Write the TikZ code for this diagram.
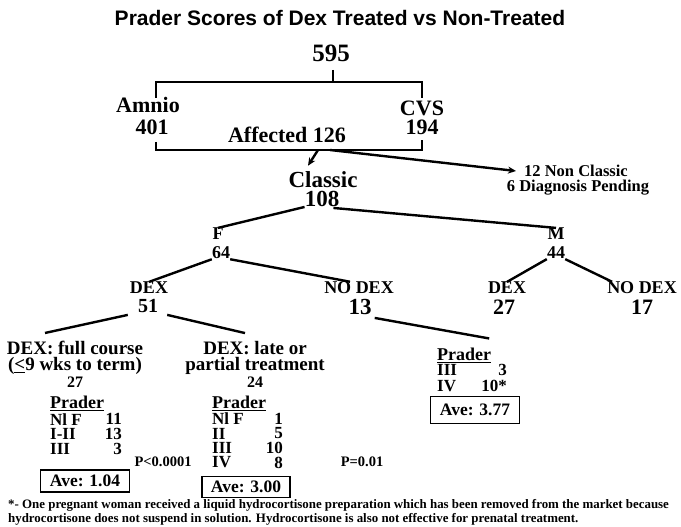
\documentclass[tikz,border=0pt]{standalone}
\usepackage{fontspec}
\setmainfont{Liberation Serif}
\newfontfamily\headfont{Liberation Sans}
\usetikzlibrary{arrows.meta, calc}

\newcommand\fs[1]{\fontsize{#1}{#1}\selectfont}

\begin{document}
\begin{tikzpicture}[
    x=1pt, y=-1pt,
    every node/.style={font=\bfseries, inner sep=0pt},
    branch/.style={line width=2.4pt},
    bracket/.style={line width=2pt},
    prhead/.style={font=\bfseries\fs{18}, anchor=west},
    prrow/.style={font=\bfseries\fs{17}},
    avebox/.style={draw, line width=1.6pt, inner sep=2pt, font=\bfseries\fs{17.5}},
]
\useasboundingbox (0,0) rectangle (681,527);

% ================================================================
%   all positions in pixels of the 681 x 527 figure, y going down
% ================================================================

\node[font=\headfont\bfseries\fs{21}] (title) at (340,18)
    {Prader Scores of Dex Treated vs Non-Treated};

% ---------------------------------------------------------------- 595
\node[font=\bfseries\fs{25}] (total) at (331,53) {595};
\node[font=\bfseries\fs{22}] (amnio) at (148,105) {Amnio};
\node[font=\bfseries\fs{22}] (amnioN) at (152,127) {401};
\node[font=\bfseries\fs{22}] (cvs) at (422,108) {CVS};
\node[font=\bfseries\fs{22}] (cvsN) at (422,127) {194};
\node[font=\bfseries\fs{22}] (affected) at (287,135) {Affected 126};

\coordinate (stem) at (333,82);
\coordinate (topL) at (156,98);
\coordinate (topR) at (422,98);
\draw[bracket] (total) ++(2,17) -- (stem);
\draw[bracket] (topL) |- (stem) -| (topR);

\coordinate (botL) at (156,142);
\coordinate (botR) at (422,140);
\coordinate (botM) at (318,150);
\draw[bracket] (botL) |- (botM) -| (botR);

% ---------------------------------------------------------------- classic
\node[font=\bfseries\fs{23}] (classic) at (323,180) {Classic};
\node[font=\bfseries\fs{23}] (classicN) at (322,199) {108};
\node[font=\bfseries\fs{16.5}] (nc1) at (576,171) {12 Non Classic};
\node[font=\bfseries\fs{16.5}] (nc2) at (578,188) {6 Diagnosis Pending};

\draw[branch, -{Stealth[length=8pt, width=7pt]}]
    (botM) -- ($(classic.north)+(-15,-6)$);
\draw[branch, -{Stealth[length=8pt, width=7pt]}]
    ($(botM)+(12,0)$) -- ($(nc1.west)+(-8,0)$);

% ---------------------------------------------------------------- F / M
\node[font=\bfseries\fs{18}] (fem) at (218,234) {F};
\node[font=\bfseries\fs{18}] (femN) at (221,253) {64};
\node[font=\bfseries\fs{18}] (male) at (556,234) {M};
\node[font=\bfseries\fs{18}] (maleN) at (556,253) {44};

\draw[branch] (classicN.south west) -- (fem.north);
\draw[branch] ($(classicN.south east)+(-6,1)$) -- (male.north);

% ---------------------------------------------------------------- DEX / NO DEX
\node[font=\bfseries\fs{18}] (dexF) at (149,288) {DEX};
\node[font=\bfseries\fs{20}] (dexFN) at (148,306) {51};
\node[font=\bfseries\fs{18}] (nodexF) at (359,288) {NO DEX};
\node[font=\bfseries\fs{23}] (nodexFN) at (360,307) {13};
\node[font=\bfseries\fs{18}] (dexM) at (507,288) {DEX};
\node[font=\bfseries\fs{22}] (dexMN) at (504,307) {27};
\node[font=\bfseries\fs{18}] (nodexM) at (642,288) {NO DEX};
\node[font=\bfseries\fs{22}] (nodexMN) at (642,307) {17};

\draw[branch] (femN.south west) -- (dexF.north);
\draw[branch] (femN.south east) -- ($(nodexF.north)+(-9,0)$);
\draw[branch] (maleN.south west) -- (dexM.north);
\draw[branch] (maleN.south east) -- ($(nodexM.north west)+(5,0)$);

% ---------------------------------------------------------------- full / late course
\node[font=\bfseries\fs{19}] (fullA) at (75,348) {DEX: full course};
\node[font=\bfseries\fs{19}] (fullB) at (75,366) {(\underline{<}9 wks to term)};
\node[font=\bfseries\fs{16}] (fullN) at (75,382) {27};
\node[font=\bfseries\fs{19}] (lateA) at (255,348) {DEX: late or};
\node[font=\bfseries\fs{19}] (lateB) at (255,366) {partial treatment};
\node[font=\bfseries\fs{16}] (lateN) at (255,382) {24};

\draw[branch] ($(dexFN.south west)+(-10,2)$) -- ($(fullA.north)+(-30,-8)$);
\draw[branch] ($(dexFN.south east)+(9,2)$) -- ($(lateA.north)+(-10,-8)$);

% ---------------------------------------------------------------- Prader tables
\node[prhead] (pLhead) at (50,403) {\underline{Prader}};
\foreach \lab/\num [count=\i] in {Nl F/11, I-II/13, III/3} {
  \node[prrow, anchor=west] (pLlab\i) at (50, 404.5+14.8*\i) {\lab};
  \node[prrow, anchor=east] (pLnum\i) at (122, 404.5+14.8*\i) {\num};
}

\node[prhead] (pMhead) at (212,403) {\underline{Prader}};
\foreach \lab/\num [count=\i] in {Nl F/1, II/5, III/10, IV/8} {
  \node[prrow, anchor=west] (pMlab\i) at (212, 404.5+14.5*\i) {\lab};
  \node[prrow, anchor=east] (pMnum\i) at (283, 404.5+14.5*\i) {\num};
}

\node[prhead] (pRhead) at (437,355) {\underline{Prader}};
\foreach \lab/\num [count=\i] in {III/3, IV/10*} {
  \node[prrow, anchor=west] (pRlab\i) at (437, 354+16*\i) {\lab};
  \node[prrow, anchor=east] (pRnum\i) at (507, 354+16*\i) {\num};
}

\draw[branch] ($(nodexFN.south east)+(3,3)$) -- ($(pRhead.north)+(25,-9)$);

% ---------------------------------------------------------------- averages
\node[avebox, minimum width=89pt, minimum height=22pt] (aveL) at (85,481) {Ave: 1.04};
\node[avebox, minimum width=88pt, minimum height=21pt] (aveM) at (246,487) {Ave: 3.00};
\node[avebox, minimum width=89pt, minimum height=27pt] (aveR) at (475,410) {Ave: 3.77};

\node[font=\bfseries\fs{14.5}] (pvalL) at (163,462) {P<0.0001};
\node[font=\bfseries\fs{14.5}] (pvalR) at (362,462) {P=0.01};

% ---------------------------------------------------------------- footnote
\node[font=\bfseries\fs{12.9}, anchor=west] (note1) at (8,505)
    {*- One pregnant woman received a liquid hydrocortisone preparation which has been removed from the market because};
\node[font=\bfseries\fs{12.9}, anchor=west] (note2) at (8,519)
    {hydrocortisone does not suspend in solution. Hydrocortisone is also not effective for prenatal treatment.};

\end{tikzpicture}
\end{document}
